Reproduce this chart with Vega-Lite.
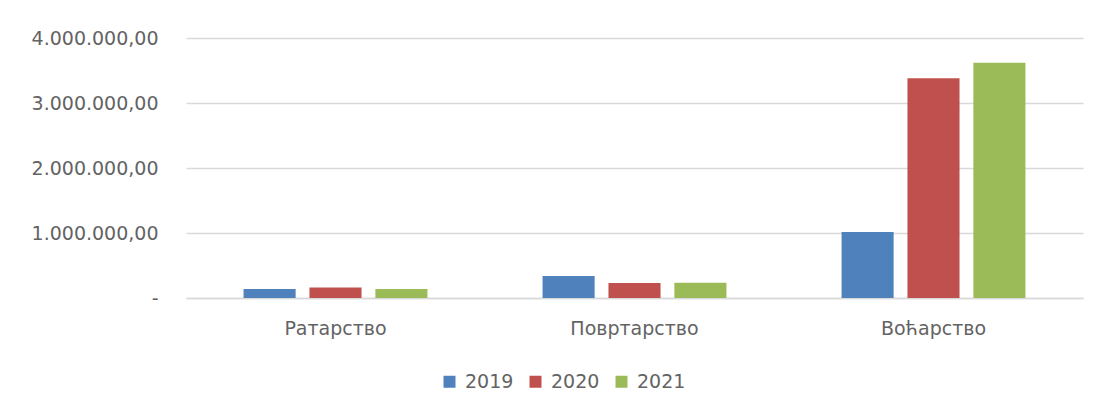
{
  "$schema": "https://vega.github.io/schema/vega-lite/v6.json",
  "autosize": {"type": "none"},
  "width": 897,
  "height": 260,
  "padding": {"left": 186, "top": 38, "right": 17, "bottom": 118},
  "background": "white",
  "config": {
    "locale": {"number": {"decimal": ",", "thousands": ".", "grouping": [3], "currency": ["", ""]}},
    "view": {"stroke": null},
    "font": "DejaVu Sans"
  },
  "data": {"values": [
    {"kategorija": "Ратарство", "godina": "2019", "vrednost": 140000},
    {"kategorija": "Ратарство", "godina": "2020", "vrednost": 160000},
    {"kategorija": "Ратарство", "godina": "2021", "vrednost": 140000},
    {"kategorija": "Повртарство", "godina": "2019", "vrednost": 340000},
    {"kategorija": "Повртарство", "godina": "2020", "vrednost": 230000},
    {"kategorija": "Повртарство", "godina": "2021", "vrednost": 235000},
    {"kategorija": "Воћарство", "godina": "2019", "vrednost": 1015000},
    {"kategorija": "Воћарство", "godina": "2020", "vrednost": 3380000},
    {"kategorija": "Воћарство", "godina": "2021", "vrednost": 3620000}
  ]},
  "mark": {"type": "bar"},
  "encoding": {
    "x": {
      "field": "kategorija", "type": "nominal", "sort": null,
      "scale": {"paddingInner": 0.385, "paddingOuter": 0.1925},
      "axis": {"title": null, "labelAngle": 0, "ticks": false, "domainColor": "#d9d9d9", "domainWidth": 1.5,
               "labelFont": "DejaVu Sans", "labelFontSize": 19, "labelColor": "#636363", "labelPadding": 21}
    },
    "xOffset": {"field": "godina", "type": "nominal", "scale": {"paddingInner": 0.21, "paddingOuter": 0}},
    "y": {
      "field": "vrednost", "type": "quantitative",
      "scale": {"domain": [0, 4000000], "nice": false},
      "axis": {"title": null, "values": [0, 1000000, 2000000, 3000000, 4000000], "format": ",.2f",
               "labelExpr": "datum.value == 0 ? '-   ' : datum.label",
               "ticks": false, "domain": false, "gridColor": "#d9d9d9", "gridWidth": 1.5,
               "labelFont": "DejaVu Sans", "labelFontSize": 19, "labelColor": "#636363", "labelPadding": 28}
    },
    "color": {
      "field": "godina", "type": "nominal",
      "scale": {"domain": ["2019", "2020", "2021"], "range": ["#4f81bd", "#c0504d", "#9bbb59"]},
      "legend": {"title": null, "orient": "none", "direction": "horizontal", "legendX": 254, "legendY": 334,
                 "symbolType": "square", "symbolSize": 144, "symbolStrokeWidth": 0,
                 "labelFont": "DejaVu Sans", "labelFontSize": 19, "labelColor": "#636363", "columnPadding": 12, "labelOffset": 6}
    }
  }
}
